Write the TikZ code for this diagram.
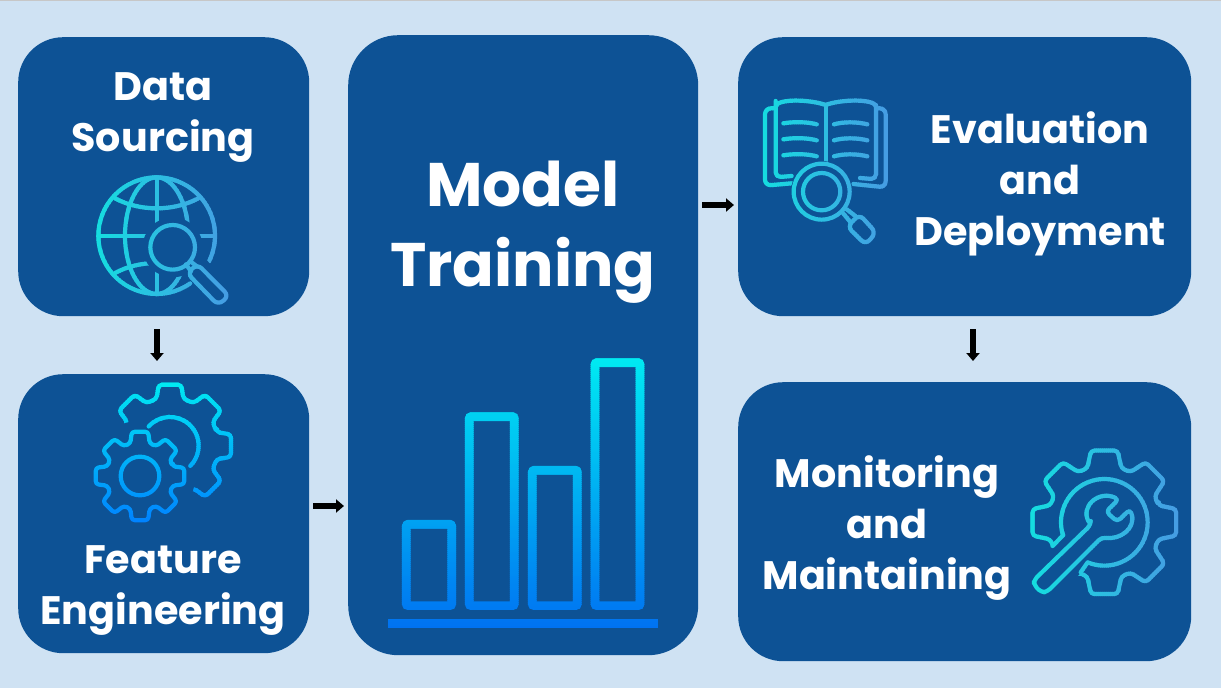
\documentclass[tikz,border=0pt]{standalone}
\usepackage{fontspec}
\setmainfont{Poppins Bold}
\usetikzlibrary{arrows.meta}
\definecolor{bgc}{HTML}{CFE2F3}
\definecolor{boxc}{HTML}{0D5295}
\definecolor{cyanA}{HTML}{14DEE0}
\definecolor{blueA}{HTML}{489AE3}
\definecolor{topC}{HTML}{00EAF2}
\definecolor{botC}{HTML}{0070F2}
\definecolor{gearB}{HTML}{0080FF}
\newcommand\hgrad[7]{%
  \pgfmathtruncatemacro\nst{(#2-#1)/2}%
  \foreach \i in {0,...,\nst}{%
    \pgfmathsetmacro\xa{#1+2*\i}\pgfmathsetmacro\xb{\xa+2.6}%
    \pgfmathtruncatemacro\pc{100*\i/\nst}%
    \colorlet{gc}{#6!\pc!#5}%
    \begin{scope}\clip (\xa,#3) rectangle (\xb,#4); #7\end{scope}}}
\newcommand\vgrad[7]{%
  \pgfmathtruncatemacro\nst{(#4-#3)/2}%
  \foreach \i in {0,...,\nst}{%
    \pgfmathsetmacro\ya{#3+2*\i}\pgfmathsetmacro\yb{\ya+2.6}%
    \pgfmathtruncatemacro\pc{100*\i/\nst}%
    \colorlet{gc}{#6!\pc!#5}%
    \begin{scope}\clip (#1,\ya) rectangle (#2,\yb); #7\end{scope}}}
\newcommand\gearpath[4]{(-#3:#1) \foreach \k in {0,45,...,315}{ -- ({\k-#3}:#1) -- ({\k-#4}:#2) -- ({\k+#4}:#2) -- ({\k+#3}:#1)} -- cycle}
\tikzset{
  card/.style={fill=boxc,rounded corners=#1,inner sep=0pt,anchor=north west},
  lab/.style={text=white,align=center,inner sep=0pt,font=\fontsize{39.7}{51}\selectfont},
  bigl/.style={text=white,align=center,inner sep=0pt,font=\fontsize{61.5}{80}\selectfont},
  flow/.style 2 args={black,line width=6.5pt,-{Triangle[width=13pt,length=8pt]},shorten <=#1,shorten >=#2},
  ln/.style={draw=gc,line width=4.2pt,line cap=round,line join=round},
  erase/.style={fill=boxc,draw=none},
  zoomed/.style={shift={#1},x=0.3333pt,y=-0.3333pt}
}
\newcommand\globeicon{%
 \begin{scope}[zoomed={(80,170)}]
  \draw[ln] (230,197) ++(55:175) arc[start angle=55,end angle=386,radius=175];
  \draw[ln] (230,197) ellipse[x radius=95,y radius=175];
  \draw[ln] (55,197) -- (405,197);
  \draw[ln] (230,22) -- (230,372);
  \draw[ln] (105,85) .. controls (180,125) and (280,125) .. (355,85);
  \draw[ln] (105,309) .. controls (180,269) and (280,269) .. (355,309);
  \fill[erase] (278,232) circle[radius=90];
  \fill[erase] (310,270) -- (350,230) -- (480,400) -- (420,450) -- cycle;
  \draw[ln] (278,232) circle[radius=67];
  \draw[ln] (318,283) -- (333,304);
  \draw[ln] (335,277) -- (352,290);
  \draw[ln,rounded corners=6pt] (352,282) -- (447,378) -- (414,405) -- (322,310) -- cycle;
 \end{scope}}
\newcommand\gearsicon{%
 \begin{scope}[zoomed={(80,375)}]
  \begin{scope}[shift={(270,212)}]
   \draw[ln,rounded corners=3.5pt] \gearpath{146}{186}{16}{10.5};
  \end{scope}
  \fill[erase] (180,303) circle[radius=165];
  \draw[ln] (270,212) ++(222:86) arc[start angle=222,end angle=405,radius=86];
  \begin{scope}[shift={(180,303)}]
   \draw[ln,rounded corners=3pt] \gearpath{102}{135}{16.5}{10.5};
   \draw[ln] (0,0) circle[radius=58];
  \end{scope}
 \end{scope}}
\newcommand\bookicon{%
 \begin{scope}[zoomed={(750,90)}]
  \draw[ln,rounded corners=5pt] (125,258) -- (77,262) -- (77,33);
  \draw[ln] (77,50) .. controls (80,25) and (180,28) .. (227,45);
  \draw[ln] (227,45) .. controls (270,28) and (375,25) .. (378,50);
  \draw[ln,rounded corners=5pt] (378,45) -- (378,268) -- (330,264);
  \draw[ln] (227,45) -- (227,215);
  \draw[ln,rounded corners=6pt] (72,55) -- (45,55) -- (45,287) -- (125,280);
  \draw[ln,rounded corners=6pt] (385,55) -- (407,55) -- (407,292) -- (310,282);
  \foreach \yy in {100,148,196}{
   \draw[ln] (100,\yy) .. controls (130,\yy-5) and (170,\yy-5) .. (200,\yy+3);
   \draw[ln] (252,\yy+3) .. controls (280,\yy-5) and (320,\yy-5) .. (352,\yy+3);
  }
  \fill[erase] (215,305) circle[radius=92];
  \draw[ln] (215,305) circle[radius=84];
  \draw[ln] (215,305) circle[radius=56];
  \draw[ln] (278,368) -- (300,395);
  \draw[ln] (290,358) -- (316,378);
  \draw[ln,rounded corners=6pt] (328,373) -- (378,428) -- (347,464) -- (292,410) -- cycle;
 \end{scope}}
\newcommand\wrenchicon{%
 \begin{scope}[zoomed={(1020,440)}]
  \begin{scope}[shift={(253,247)}]
   \draw[ln,rounded corners=3.5pt] \gearpath{170}{219}{17.5}{10.5};
  \end{scope}
  \draw[erase,draw=boxc,line width=39pt] (-20,513) -- (190,310);
  \draw[ln] (253,247) ++(163:130) arc[start angle=163,end angle=472,radius=130];
  \draw[ln] (98,318) -- (130,285);
  \draw[ln] (182,397) -- (203,367);
  \draw[ln,rounded corners=4pt] (212,255) -- (42,420) -- (42,435) -- (65,458) -- (82,455) -- (245,292)
    .. controls (300,300) and (350,265) .. (330,208)
    -- (292,245) -- (258,215) -- (296,178)
    .. controls (235,150) and (180,200) .. (212,255) -- cycle;
 \end{scope}}
\newcommand\barsicon{%
 \begin{scope}[zoomed={(380,350)}]
  \draw[draw=gc,line width=8.7pt,rounded corners=2pt] (79,523) rectangle (215,767);
  \draw[draw=gc,line width=8.7pt,rounded corners=2pt] (268,200) rectangle (403,767);
  \draw[draw=gc,line width=8.7pt,rounded corners=2pt] (457,361) rectangle (592,767);
  \draw[draw=gc,line width=8.7pt,rounded corners=2pt] (645,38) rectangle (780,767);
  \fill[gc] (25,806) rectangle (834,833);
 \end{scope}}
\begin{document}
\begin{tikzpicture}[x=1pt,y=-1pt]
\useasboundingbox (0,0) rectangle (1221,688);
\fill[bgc] (0,0) rectangle (1221,688);
\fill[black!22] (0,0) rectangle (1221,1);
\node[card=45pt,minimum width=291pt,minimum height=279pt] (ds) at (18,37) {};
\node[card=45pt,minimum width=291pt,minimum height=279pt] (fe) at (18,374) {};
\node[card=50pt,minimum width=350pt,minimum height=620pt] (mt) at (348,35) {};
\node[card=45pt,minimum width=453pt,minimum height=279pt] (ev) at (738,37) {};
\node[card=45pt,minimum width=453pt,minimum height=279pt] (mm) at (738,382) {};
\node[lab] (dst) at (163,118) {Data\\Sourcing};
\node[lab] (fet) at (163,590.5) {Feature\\Engineering};
\node[bigl] (mtt) at (523,232) {Model\\Training};
\node[lab] (evt) at (1040,184) {Evaluation\\and\\Deployment};
\node[lab] (mmt) at (887,528.5) {Monitoring\\and\\Maintaining};
\hgrad{92}{232}{172}{306}{cyanA}{blueA}{\globeicon}
\vgrad{90}{238}{380}{524}{topC}{gearB}{\gearsicon}
\hgrad{760}{890}{96}{248}{cyanA}{blueA}{\bookicon}
\hgrad{1028}{1182}{446}{600}{cyanA}{blueA}{\wrenchicon}
\vgrad{385}{662}{356}{630}{topC}{botC}{\barsicon}
\draw[flow={13pt}{13pt}] (ds.south -| 157,0) -- (fe.north -| 157,0);
\draw[flow={4pt}{4pt}] (fe.east |- 0,506) -- (mt.west |- 0,506);
\draw[flow={4pt}{4pt}] (mt.east |- 0,205) -- (ev.west |- 0,205);
\draw[flow={13pt}{21pt}] (ev.south -| 973,0) -- (mm.north -| 973,0);
\end{tikzpicture}
\end{document}
